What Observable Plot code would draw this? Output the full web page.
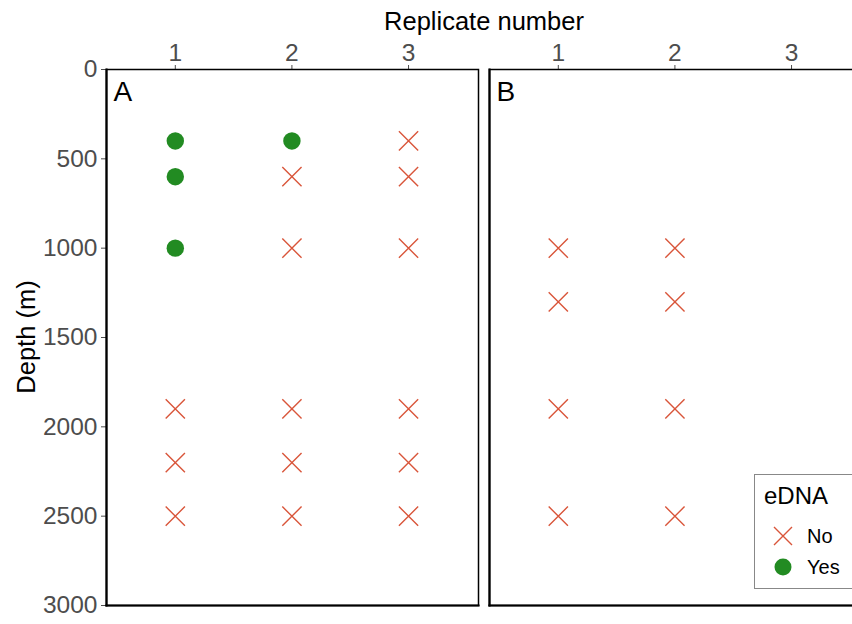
<!DOCTYPE html>
<html>
<head>
<meta charset="utf-8">
<script src="https://cdn.jsdelivr.net/npm/d3@7"></script>
<script src="https://cdn.jsdelivr.net/npm/@observablehq/plot@0.6"></script>
<style>
  html, body { margin: 0; padding: 0; background: white; overflow: hidden; }
  #wrap { position: relative; width: 852px; height: 624px; overflow: hidden; font-family: "Liberation Sans", Arial, sans-serif; }
  #chart svg { max-width: none !important; }
  #xtitle { position: absolute; left: 484px; top: 21px; transform: translate(-50%, -50%); font-size: 25.5px; color: black; white-space: nowrap; }
  #ytitle { position: absolute; left: 26px; top: 337px; transform: translate(-50%, -50%) rotate(-90deg); font-size: 25.5px; color: black; white-space: nowrap; }
  #legend { position: absolute; left: 754px; top: 474px; width: 110px; height: 115px; border: 1px solid #888; background: white; box-sizing: border-box; }
  #legend .ttl { position: absolute; left: 9px; top: 7px; font-size: 24px; color: black; }
  #legend .row { position: absolute; left: 18px; height: 24px; display: flex; align-items: center; font-size: 20px; color: black; }
  #legend .row svg { margin-right: 14px; }
</style>
</head>
<body>
<div id="wrap">
  <div id="chart"></div>
  <div id="xtitle">Replicate number</div>
  <div id="ytitle">Depth (m)</div>
  <div id="legend"></div>
</div>
<script>
// ---- data ----
const panels = ["A", "B"];
const replicates = [1, 2, 3];
const depthTicks = [0, 500, 1000, 1500, 2000, 2500, 3000];
const ednaLevels = ["No", "Yes"];
const ednaColors = ["#d9553a", "#228B22"];

const depthsA = [400, 600, 1000, 1900, 2200, 2500];
const ednaA1 = ["Yes", "Yes", "Yes", "No", "No", "No"];
const ednaA2 = ["Yes", "No", "No", "No", "No", "No"];
const ednaA3 = ["No", "No", "No", "No", "No", "No"];

const depthsB = [1000, 1300, 1900, 2500];
const ednaB1 = ["No", "No", "No", "No"];
const ednaB2 = ["No", "No", "No", "No"];

// ---- build table ----
const rows = [];
function add(panel, rep, depths, edna) {
  depths.forEach((d, i) => rows.push({panel, replicate: rep, depth: d, eDNA: edna[i]}));
}
add("A", 1, depthsA, ednaA1);
add("A", 2, depthsA, ednaA2);
add("A", 3, depthsA, ednaA3);
add("B", 1, depthsB, ednaB1);
add("B", 2, depthsB, ednaB2);

const noRows = rows.filter(d => d.eDNA === "No");
const yesRows = rows.filter(d => d.eDNA === "Yes");

const chart = Plot.plot({
  width: 870,
  height: 624,
  marginLeft: 106,
  marginRight: 8,
  marginTop: 69,
  marginBottom: 19,
  style: {fontFamily: "'Liberation Sans', Arial, sans-serif", background: "white", maxWidth: "none"},
  fx: {domain: panels, paddingInner: 11 / 384, paddingOuter: 0, axis: null, label: null},
  x: {domain: [0.41, 3.6], label: null},
  y: {domain: [0, 3000], reverse: true, label: null},
  marks: [
    Plot.axisX({anchor: "top", ticks: replicates, tickFormat: d => String(d), fontSize: 24.5, tickSize: 5, tickPadding: 4, color: "#4d4d4d", label: null}),
    Plot.axisY({anchor: "left", ticks: depthTicks, tickFormat: d => String(d), fontSize: 24.5, tickSize: 5, tickPadding: 4, color: "#4d4d4d", label: null}),
    Plot.frame({stroke: "black", strokeWidth: 1.5}),
    Plot.frame({anchor: "left", stroke: "black", strokeWidth: 2.2}),
    Plot.frame({anchor: "bottom", stroke: "black", strokeWidth: 2.2}),
    Plot.dot(noRows, {fx: "panel", x: "replicate", y: "depth", symbol: "times", r: 8.8, stroke: ednaColors[0], strokeWidth: 1.4}),
    Plot.dot(yesRows, {fx: "panel", x: "replicate", y: "depth", symbol: "circle", r: 8.7, fill: ednaColors[1], stroke: "none"}),
    Plot.text(panels, {fx: d => d, text: d => d, frameAnchor: "top-left", dx: 7, dy: 23, fontSize: 28, fill: "black", textAnchor: "start", lineAnchor: "middle"})
  ]
});
document.getElementById("chart").appendChild(chart);

// ---- legend ----
const legend = document.getElementById("legend");
const ttl = document.createElement("div");
ttl.className = "ttl";
ttl.textContent = "eDNA";
legend.appendChild(ttl);
ednaLevels.forEach((lev, i) => {
  const row = document.createElement("div");
  row.className = "row";
  row.style.top = (49 + i * 31) + "px";
  const s = i === 0
    ? `<svg width="20" height="20"><path d="M1,1L19,19M19,1L1,19" stroke="${ednaColors[0]}" stroke-width="1.4"/></svg>`
    : `<svg width="20" height="20"><circle cx="10" cy="10" r="8.5" fill="${ednaColors[1]}"/></svg>`;
  row.innerHTML = s + `<span>${lev}</span>`;
  legend.appendChild(row);
});
</script>
</body>
</html>
